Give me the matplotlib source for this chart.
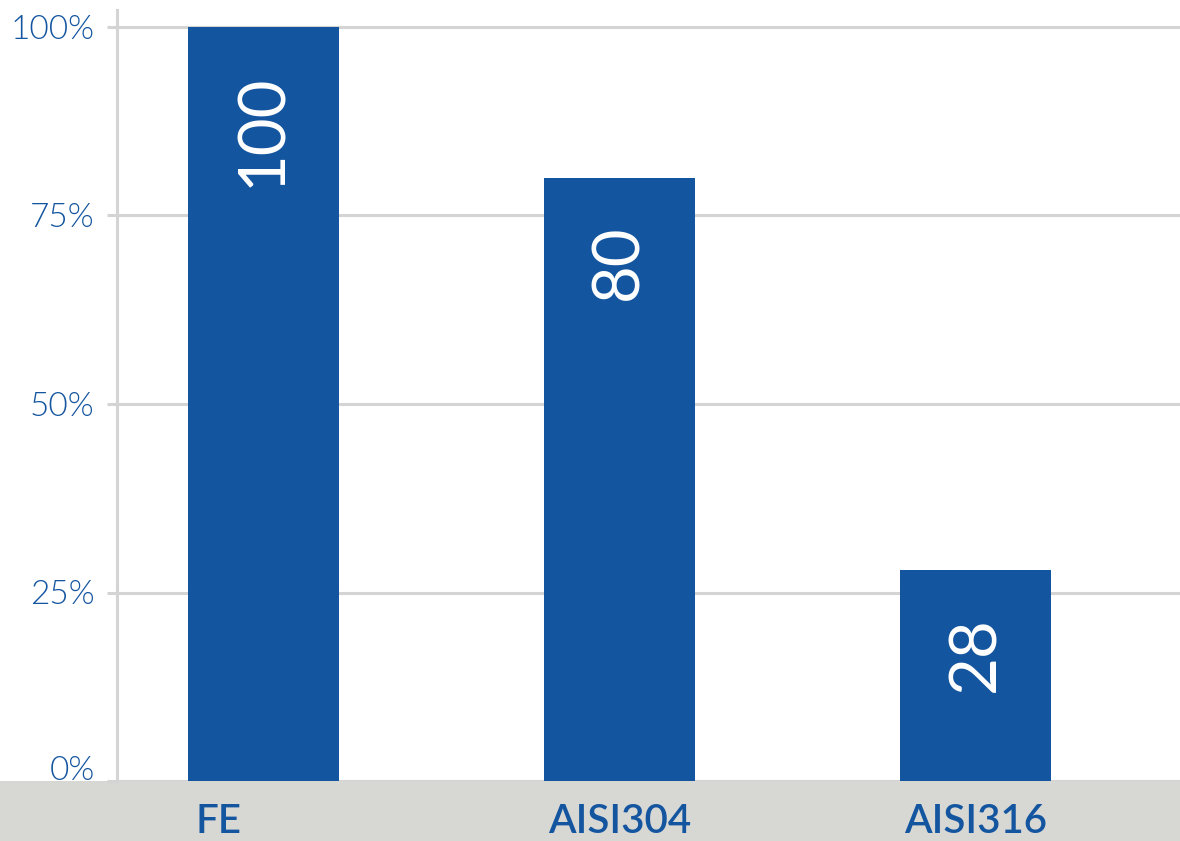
import matplotlib
matplotlib.use("Agg")
import matplotlib.pyplot as plt
from matplotlib.patches import Rectangle
import matplotlib.transforms as mtransforms

categories = ["FE", "AISI304", "AISI316"]
values = [100, 80, 28]
tick_values = [0, 25, 50, 75, 100]
tick_labels = ["0%", "25%", "50%", "75%", "100%"]

BLUE = "#1455a0"
GRID = "#d4d4d4"
BAND = "#d7d7d4"

W, H = 1180, 841
fig = plt.figure(figsize=(W / 100, H / 100), dpi=100)
fig.patch.set_facecolor("white")

# grey band at bottom
band = Rectangle((0, 0), 1, 60 / H, transform=fig.transFigure,
                 facecolor=BAND, edgecolor="none", zorder=-5)
fig.patches.append(band)

ax_left = 117 / W
ax_bottom = 60 / H
ax_top = 10 / H
ax = fig.add_axes([ax_left, ax_bottom, 1 - ax_left, 1 - ax_bottom - ax_top])
ax.set_facecolor("none")
ax.set_zorder(2)

ymax = (781 - 10) / 754 * 100
ax.set_ylim(0, ymax)
ax.set_xlim(-0.41, 2.574)

x = list(range(len(categories)))
ax.bar(x, values, width=0.424, color=BLUE, zorder=3)

for xi, v in zip(x, values):
    ax.annotate(str(v), xy=(xi, v), xytext=(0, -33.5), textcoords="offset points",
                rotation=90, ha="center", va="top", color="white",
                fontsize=47, family="Lato", zorder=4)

ax.set_yticks(tick_values)
ax.set_yticklabels(tick_labels)
ax.yaxis.grid(True, color=GRID, linewidth=2.2, zorder=1)
ax.tick_params(axis="y", length=7, width=2.2, color=GRID, pad=9,
               labelsize=24, labelcolor=BLUE)
for lab in ax.get_yticklabels():
    lab.set_family("Lato")
    lab.set_fontweight(300)
# shift 0% label up a bit
offset = mtransforms.ScaledTranslation(0, 13 / 100, fig.dpi_scale_trans)
lab0 = ax.get_yticklabels()[0]
lab0.set_transform(lab0.get_transform() + offset)

ax.set_xticks(x)
ax.set_xticklabels(categories)
ax.tick_params(axis="x", length=0, pad=16, labelsize=29, labelcolor=BLUE)
for lab in ax.get_xticklabels():
    lab.set_family("Lato")
    lab.set_fontweight("semibold")
# FE label sits left of its bar centre in the reference
fe_off = mtransforms.ScaledTranslation(-45 / 100, 0, fig.dpi_scale_trans)
lab_fe = ax.get_xticklabels()[0]
lab_fe.set_transform(lab_fe.get_transform() + fe_off)

for s in ["top", "right", "bottom"]:
    ax.spines[s].set_visible(False)
ax.spines["left"].set_color(GRID)
ax.spines["left"].set_linewidth(2.2)

fig.savefig("out.png", dpi=100, facecolor="white")
